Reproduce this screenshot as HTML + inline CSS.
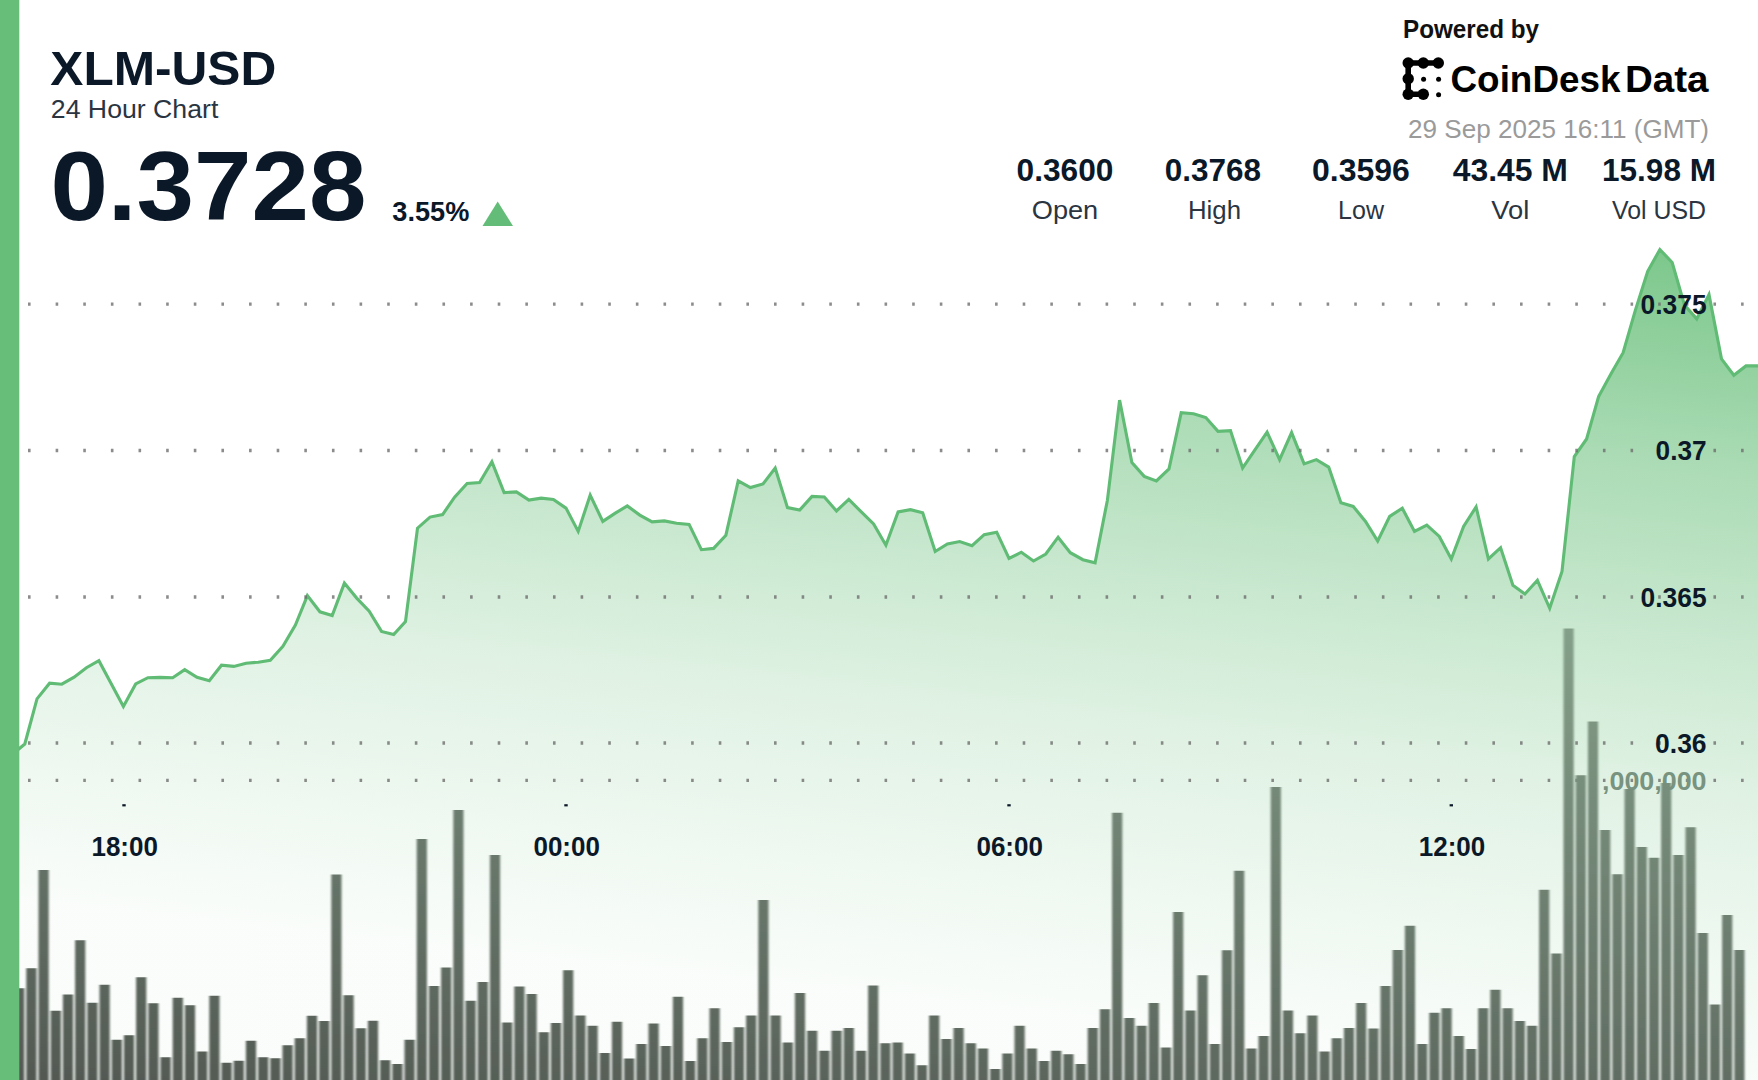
<!DOCTYPE html>
<html lang="en"><head><meta charset="utf-8"><title>XLM-USD 24 Hour Chart</title>
<style>
html,body{margin:0;padding:0;background:#fff;}
body{width:1758px;height:1080px;overflow:hidden;font-family:"Liberation Sans",Arial,sans-serif;}
svg{display:block;position:absolute;left:0;top:0;}
</style></head><body>
<svg width="1758" height="1080" viewBox="0 0 1758 1080" font-family="Liberation Sans, Arial, sans-serif">
<defs>
<linearGradient id="ga" gradientUnits="userSpaceOnUse" x1="1752" y1="248" x2="1660.5" y2="1080">
<stop offset="0" stop-color="#66be78" stop-opacity="0.87"/>
<stop offset="0.1686" stop-color="#66be78" stop-opacity="0.67"/>
<stop offset="0.2637" stop-color="#66be78" stop-opacity="0.55"/>
<stop offset="0.4656" stop-color="#66be78" stop-opacity="0.36"/>
<stop offset="0.6556" stop-color="#66be78" stop-opacity="0.2"/>
<stop offset="0.8456" stop-color="#66be78" stop-opacity="0.105"/>
<stop offset="1" stop-color="#66be78" stop-opacity="0.035"/>
</linearGradient>
<linearGradient id="gb" gradientUnits="userSpaceOnUse" x1="1752" y1="248" x2="1637.6" y2="1288">
<stop offset="0" stop-color="rgb(164,205,172)"/>
<stop offset="1" stop-color="rgb(80,85,80)"/>
</linearGradient>
<filter id="bl" x="0" y="0" width="100%" height="100%" filterUnits="userSpaceOnUse"><feGaussianBlur stdDeviation="1.0 0.7"/></filter>
</defs>
<rect width="1758" height="1080" fill="#fff"/>
<path d="M12.5 754 L18.8 749 L24.8 744 L37 698.9 L49.6 683.2 L61.8 684.2 L74.1 677.2 L86.4 667.7 L98.9 660.7 L111.1 683.4 L123.4 706.5 L135.7 683.9 L147.9 677.7 L160.2 677.4 L172.7 677.7 L184.7 669.7 L197 677.2 L209.3 680.7 L221.5 665.2 L233.8 666.4 L246.1 663.2 L258.3 662.2 L270.3 660.2 L282.9 646.4 L295.4 625.1 L307.4 595.6 L319.9 611.8 L332.2 615.6 L344.4 583.1 L356.7 598.1 L369.2 611.3 L381.5 631.4 L393.7 634.6 L405.5 621.5 L417.5 528.2 L430 517.1 L442.6 514.6 L454.6 497.1 L467.1 483.4 L479.6 482.6 L491.9 461.8 L504.1 492.6 L516.4 491.9 L528.9 500.1 L541.2 498.1 L553.4 499.4 L566 508.1 L578.2 531.4 L590.2 495.1 L602.8 521.4 L615.3 513.1 L627.3 505.9 L639.8 515.1 L652.1 521.9 L664.3 520.9 L676.6 523.2 L689.1 524.4 L701.4 549.7 L713.6 548.4 L725.9 535.2 L738.2 480.9 L750.4 487.6 L763 483.9 L775.2 468.1 L787.5 507.6 L799.7 510.1 L812 496.4 L824.3 496.9 L836.5 510.9 L848.8 499.4 L861.3 511.9 L873.6 524 L885.9 545.2 L898.1 511.9 L910.4 509.7 L922.7 512.7 L935.2 551.5 L947.4 544 L959.7 541.5 L972 545.7 L984.2 534.7 L996.7 532.2 L1009 558.5 L1021.3 552.2 L1033.5 561 L1045.8 554 L1058.1 537.2 L1070.3 552.7 L1082.9 559.7 L1095.1 562.8 L1107.4 500.2 L1119.6 400.1 L1131.9 462.6 L1144.2 476.4 L1156.4 480.9 L1169 468.9 L1181.2 412.6 L1193.5 413.8 L1205.8 417.5 L1218 431.3 L1230.5 430.6 L1242.6 468.1 L1255.1 449.6 L1267.1 432.1 L1279.6 459.6 L1291.6 432.6 L1304.1 463.9 L1316.4 459.6 L1328.7 467.1 L1340.9 502.7 L1353.2 506.4 L1365.5 521.4 L1377.7 541 L1389.7 516.4 L1402.3 508.2 L1414.5 531.4 L1426.8 525.2 L1439.3 536.4 L1451.3 559 L1463.6 526.4 L1476.1 506.9 L1488.4 559 L1500.6 547.7 L1512.9 585.3 L1524.9 594 L1537.4 580.3 L1549.7 608.3 L1562 571.5 L1574.3 456.5 L1586.6 439 L1598.6 396.5 L1610.9 373.9 L1623.1 352.7 L1635.4 310.1 L1647.7 271.3 L1659.9 249.5 L1672.2 262.5 L1684.5 305.1 L1696.7 318.9 L1709 294.6 L1721.5 358.9 L1733.8 375.2 L1746 365.9 L1758.6 365.9 L1771.1 365.9 L1771.1 1080 L12.5 1080 Z" fill="url(#ga)"/>
<path d="M12.5 754 L18.8 749 L24.8 744 L37 698.9 L49.6 683.2 L61.8 684.2 L74.1 677.2 L86.4 667.7 L98.9 660.7 L111.1 683.4 L123.4 706.5 L135.7 683.9 L147.9 677.7 L160.2 677.4 L172.7 677.7 L184.7 669.7 L197 677.2 L209.3 680.7 L221.5 665.2 L233.8 666.4 L246.1 663.2 L258.3 662.2 L270.3 660.2 L282.9 646.4 L295.4 625.1 L307.4 595.6 L319.9 611.8 L332.2 615.6 L344.4 583.1 L356.7 598.1 L369.2 611.3 L381.5 631.4 L393.7 634.6 L405.5 621.5 L417.5 528.2 L430 517.1 L442.6 514.6 L454.6 497.1 L467.1 483.4 L479.6 482.6 L491.9 461.8 L504.1 492.6 L516.4 491.9 L528.9 500.1 L541.2 498.1 L553.4 499.4 L566 508.1 L578.2 531.4 L590.2 495.1 L602.8 521.4 L615.3 513.1 L627.3 505.9 L639.8 515.1 L652.1 521.9 L664.3 520.9 L676.6 523.2 L689.1 524.4 L701.4 549.7 L713.6 548.4 L725.9 535.2 L738.2 480.9 L750.4 487.6 L763 483.9 L775.2 468.1 L787.5 507.6 L799.7 510.1 L812 496.4 L824.3 496.9 L836.5 510.9 L848.8 499.4 L861.3 511.9 L873.6 524 L885.9 545.2 L898.1 511.9 L910.4 509.7 L922.7 512.7 L935.2 551.5 L947.4 544 L959.7 541.5 L972 545.7 L984.2 534.7 L996.7 532.2 L1009 558.5 L1021.3 552.2 L1033.5 561 L1045.8 554 L1058.1 537.2 L1070.3 552.7 L1082.9 559.7 L1095.1 562.8 L1107.4 500.2 L1119.6 400.1 L1131.9 462.6 L1144.2 476.4 L1156.4 480.9 L1169 468.9 L1181.2 412.6 L1193.5 413.8 L1205.8 417.5 L1218 431.3 L1230.5 430.6 L1242.6 468.1 L1255.1 449.6 L1267.1 432.1 L1279.6 459.6 L1291.6 432.6 L1304.1 463.9 L1316.4 459.6 L1328.7 467.1 L1340.9 502.7 L1353.2 506.4 L1365.5 521.4 L1377.7 541 L1389.7 516.4 L1402.3 508.2 L1414.5 531.4 L1426.8 525.2 L1439.3 536.4 L1451.3 559 L1463.6 526.4 L1476.1 506.9 L1488.4 559 L1500.6 547.7 L1512.9 585.3 L1524.9 594 L1537.4 580.3 L1549.7 608.3 L1562 571.5 L1574.3 456.5 L1586.6 439 L1598.6 396.5 L1610.9 373.9 L1623.1 352.7 L1635.4 310.1 L1647.7 271.3 L1659.9 249.5 L1672.2 262.5 L1684.5 305.1 L1696.7 318.9 L1709 294.6 L1721.5 358.9 L1733.8 375.2 L1746 365.9 L1758.6 365.9 L1771.1 365.9" fill="none" stroke="#60bb75" stroke-width="3.1" stroke-linejoin="miter" stroke-miterlimit="6"/>
<g stroke="#6c6c6c" stroke-opacity="0.78" stroke-width="3.3" stroke-dasharray="2.6 25.03" fill="none"><line x1="28.0" y1="304.2" x2="1758" y2="304.2"/><line x1="28.0" y1="450.5" x2="1758" y2="450.5"/><line x1="28.0" y1="597" x2="1758" y2="597"/><line x1="28.0" y1="743" x2="1758" y2="743"/><line x1="28.0" y1="780.3" x2="1758" y2="780.3"/></g>
<text x="1706.5" y="789.8" font-size="25.5" font-weight="bold" text-anchor="end" fill="#78937f" textLength="104.5" lengthAdjust="spacingAndGlyphs">,000,000</text>
<path d="M14.1 1080V988.2h10.2V1080zM26.3 1080V968.2h10.2V1080zM38.5 1080V870.1h10.2V1080zM50.7 1080V1010.8h10.2V1080zM62.9 1080V994.5h10.2V1080zM75.1 1080V940.2h10.2V1080zM87.3 1080V1002.7h10.2V1080zM99.5 1080V984.7h10.2V1080zM111.7 1080V1039.8h10.2V1080zM123.9 1080V1035.3h10.2V1080zM136.1 1080V977.2h10.2V1080zM148.3 1080V1003.2h10.2V1080zM160.5 1080V1057.3h10.2V1080zM172.7 1080V997.7h10.2V1080zM184.9 1080V1005.2h10.2V1080zM197.1 1080V1051.6h10.2V1080zM209.3 1080V995.7h10.2V1080zM221.5 1080V1062.8h10.2V1080zM233.7 1080V1060.8h10.2V1080zM245.9 1080V1040.8h10.2V1080zM258.1 1080V1057.3h10.2V1080zM270.3 1080V1058.3h10.2V1080zM282.5 1080V1045.3h10.2V1080zM294.7 1080V1038.3h10.2V1080zM306.9 1080V1015.8h10.2V1080zM319.1 1080V1021h10.2V1080zM331.3 1080V874.6h10.2V1080zM343.5 1080V995.2h10.2V1080zM355.7 1080V1028.3h10.2V1080zM367.9 1080V1020.8h10.2V1080zM380.1 1080V1060.3h10.2V1080zM392.3 1080V1064.1h10.2V1080zM404.5 1080V1039.7h10.2V1080zM416.7 1080V838.9h10.2V1080zM428.9 1080V986.1h10.2V1080zM441.1 1080V967.5h10.2V1080zM453.3 1080V810h10.2V1080zM465.5 1080V1000.8h10.2V1080zM477.7 1080V981.9h10.2V1080zM489.9 1080V855h10.2V1080zM502.1 1080V1022.5h10.2V1080zM514.3 1080V986.4h10.2V1080zM526.5 1080V993.9h10.2V1080zM538.7 1080V1032.2h10.2V1080zM550.9 1080V1023.1h10.2V1080zM563.1 1080V970.3h10.2V1080zM575.3 1080V1015.6h10.2V1080zM587.5 1080V1025.8h10.2V1080zM599.7 1080V1053.1h10.2V1080zM611.9 1080V1021.7h10.2V1080zM624.1 1080V1058.6h10.2V1080zM636.3 1080V1043.9h10.2V1080zM648.5 1080V1023.6h10.2V1080zM660.7 1080V1046.1h10.2V1080zM672.9 1080V996.7h10.2V1080zM685.1 1080V1061.1h10.2V1080zM697.3 1080V1038.3h10.2V1080zM709.5 1080V1008.3h10.2V1080zM721.7 1080V1041.9h10.2V1080zM733.9 1080V1027.2h10.2V1080zM746.1 1080V1015.6h10.2V1080zM758.3 1080V900h10.2V1080zM770.5 1080V1015.6h10.2V1080zM782.7 1080V1042.5h10.2V1080zM794.9 1080V993.1h10.2V1080zM807.1 1080V1030.8h10.2V1080zM819.3 1080V1050.8h10.2V1080zM831.5 1080V1030.8h10.2V1080zM843.7 1080V1028.1h10.2V1080zM855.9 1080V1050.8h10.2V1080zM868.1 1080V985.6h10.2V1080zM880.3 1080V1043.3h10.2V1080zM892.5 1080V1042.5h10.2V1080zM904.7 1080V1053.6h10.2V1080zM916.9 1080V1065.3h10.2V1080zM929.1 1080V1015.6h10.2V1080zM941.3 1080V1038.9h10.2V1080zM953.5 1080V1028.1h10.2V1080zM965.7 1080V1043.3h10.2V1080zM977.9 1080V1048.6h10.2V1080zM990.1 1080V1068.9h10.2V1080zM1002.3 1080V1053.6h10.2V1080zM1014.5 1080V1025.8h10.2V1080zM1026.7 1080V1048.6h10.2V1080zM1038.9 1080V1061.1h10.2V1080zM1051.1 1080V1050.8h10.2V1080zM1063.3 1080V1054.2h10.2V1080zM1075.5 1080V1063.9h10.2V1080zM1087.7 1080V1028.1h10.2V1080zM1099.9 1080V1009.2h10.2V1080zM1112.1 1080V812.8h10.2V1080zM1124.3 1080V1018.1h10.2V1080zM1136.5 1080V1025.8h10.2V1080zM1148.7 1080V1003.1h10.2V1080zM1160.9 1080V1047.5h10.2V1080zM1173.1 1080V911.9h10.2V1080zM1185.3 1080V1010.6h10.2V1080zM1197.5 1080V975.3h10.2V1080zM1209.7 1080V1043.9h10.2V1080zM1221.9 1080V950.3h10.2V1080zM1234.1 1080V870.8h10.2V1080zM1246.3 1080V1048.6h10.2V1080zM1258.5 1080V1036.1h10.2V1080zM1270.7 1080V786.9h10.2V1080zM1282.9 1080V1010.6h10.2V1080zM1295.1 1080V1033.3h10.2V1080zM1307.3 1080V1015.6h10.2V1080zM1319.5 1080V1051.4h10.2V1080zM1331.7 1080V1038.3h10.2V1080zM1343.9 1080V1028.1h10.2V1080zM1356.1 1080V1003.1h10.2V1080zM1368.3 1080V1028.6h10.2V1080zM1380.5 1080V986.1h10.2V1080zM1392.7 1080V950h10.2V1080zM1404.9 1080V925.8h10.2V1080zM1417.1 1080V1043.9h10.2V1080zM1429.3 1080V1012.8h10.2V1080zM1441.5 1080V1008.3h10.2V1080zM1453.7 1080V1036.1h10.2V1080zM1465.9 1080V1048.9h10.2V1080zM1478.1 1080V1008.3h10.2V1080zM1490.3 1080V989.7h10.2V1080zM1502.5 1080V1008.3h10.2V1080zM1514.7 1080V1021.1h10.2V1080zM1526.9 1080V1025.8h10.2V1080zM1539.1 1080V889.7h10.2V1080zM1551.3 1080V953.6h10.2V1080zM1563.5 1080V628.6h10.2V1080zM1575.7 1080V775.3h10.2V1080zM1587.9 1080V721.5h10.2V1080zM1600.1 1080V830h10.2V1080zM1612.3 1080V874.3h10.2V1080zM1624.5 1080V789h10.2V1080zM1636.7 1080V847h10.2V1080zM1648.9 1080V857.8h10.2V1080zM1661.1 1080V783h10.2V1080zM1673.3 1080V855h10.2V1080zM1685.5 1080V827.2h10.2V1080zM1697.7 1080V933h10.2V1080zM1709.9 1080V1004.4h10.2V1080zM1722.1 1080V915h10.2V1080zM1734.3 1080V950.1h10.2V1080z" fill="url(#gb)" filter="url(#bl)"/>
<text x="1706.6" y="313.8" font-size="27" font-weight="bold" text-anchor="end" fill="#0b1828" textLength="66.0" lengthAdjust="spacingAndGlyphs">0.375</text><text x="1706.6" y="460.1" font-size="27" font-weight="bold" text-anchor="end" fill="#0b1828" textLength="51.0" lengthAdjust="spacingAndGlyphs">0.37</text><text x="1706.6" y="606.6" font-size="27" font-weight="bold" text-anchor="end" fill="#0b1828" textLength="66.0" lengthAdjust="spacingAndGlyphs">0.365</text><text x="1706.6" y="753.3000000000001" font-size="27" font-weight="bold" text-anchor="end" fill="#0b1828" textLength="51.5" lengthAdjust="spacingAndGlyphs">0.36</text><text x="124.7" y="856.4" font-size="27" font-weight="bold" text-anchor="middle" fill="#0b1828" textLength="66.5" lengthAdjust="spacingAndGlyphs">18:00</text><rect x="122.3" y="804.2" width="3.4" height="2.2" fill="#0b1828"/><text x="566.7" y="856.4" font-size="27" font-weight="bold" text-anchor="middle" fill="#0b1828" textLength="66.5" lengthAdjust="spacingAndGlyphs">00:00</text><rect x="564.3000000000001" y="804.2" width="3.4" height="2.2" fill="#0b1828"/><text x="1009.7" y="856.4" font-size="27" font-weight="bold" text-anchor="middle" fill="#0b1828" textLength="66.5" lengthAdjust="spacingAndGlyphs">06:00</text><rect x="1007.3000000000001" y="804.2" width="3.4" height="2.2" fill="#0b1828"/><text x="1452" y="856.4" font-size="27" font-weight="bold" text-anchor="middle" fill="#0b1828" textLength="66.5" lengthAdjust="spacingAndGlyphs">12:00</text><rect x="1449.6" y="804.2" width="3.4" height="2.2" fill="#0b1828"/>
<rect x="0" y="0" width="19.3" height="1080" fill="#66be78"/>
<text x="50.3" y="85.3" font-size="47.5" font-weight="bold" text-anchor="start" fill="#0b1828" textLength="226" lengthAdjust="spacingAndGlyphs">XLM-USD</text><text x="50.8" y="118.2" font-size="25.8" font-weight="normal" text-anchor="start" fill="#2b3542" textLength="167.5" lengthAdjust="spacingAndGlyphs">24 Hour Chart</text><text x="50.4" y="220.3" font-size="98" font-weight="bold" text-anchor="start" fill="#0b1828" textLength="316" lengthAdjust="spacingAndGlyphs">0.3728</text><text x="392.3" y="221.3" font-size="28" font-weight="bold" text-anchor="start" fill="#0b1828" textLength="77" lengthAdjust="spacingAndGlyphs">3.55%</text><path d="M482.5 226 L497.7 201.5 L513 226 Z" fill="#63bd78"/><text x="1403" y="37.6" font-size="25" font-weight="bold" text-anchor="start" fill="#111" textLength="136" lengthAdjust="spacingAndGlyphs">Powered by</text><text font-size="37.5" font-weight="bold" fill="#000" y="91.6"><tspan x="1450.5" textLength="170" lengthAdjust="spacingAndGlyphs">CoinDesk</tspan> <tspan x="1625" textLength="83.5" lengthAdjust="spacingAndGlyphs">Data</tspan></text><text x="1408" y="137.6" font-size="26" font-weight="normal" text-anchor="start" fill="#9a9a9a" textLength="301" lengthAdjust="spacingAndGlyphs">29 Sep 2025 16:11 (GMT)</text><g fill="#000" stroke="#000" stroke-width="5.6" stroke-linecap="round"><path d="M1438.3 63H1408.2V94.3H1423.3" fill="none"/></g><g fill="#000"><circle cx="1408.2" cy="63" r="5.7"/><circle cx="1423.3" cy="63" r="5.7"/><circle cx="1438.3" cy="63" r="5.7"/><circle cx="1408.2" cy="78.8" r="5.7"/><circle cx="1408.2" cy="94.3" r="5.7"/><circle cx="1423.3" cy="94.3" r="5.7"/><circle cx="1423.6" cy="79.2" r="2.5"/><circle cx="1438.6" cy="79.2" r="2.5"/><circle cx="1438.6" cy="94.7" r="2.5"/></g><text x="1065" y="181" font-size="31.5" font-weight="bold" text-anchor="middle" fill="#0b1828" textLength="96.8" lengthAdjust="spacingAndGlyphs">0.3600</text><text x="1065" y="218.6" font-size="25.6" font-weight="normal" text-anchor="middle" fill="#2b3542" textLength="66.5" lengthAdjust="spacingAndGlyphs">Open</text><text x="1213" y="181" font-size="31.5" font-weight="bold" text-anchor="middle" fill="#0b1828" textLength="96.3" lengthAdjust="spacingAndGlyphs">0.3768</text><text x="1214.5" y="218.6" font-size="25.6" font-weight="normal" text-anchor="middle" fill="#2b3542" textLength="53" lengthAdjust="spacingAndGlyphs">High</text><text x="1361" y="181" font-size="31.5" font-weight="bold" text-anchor="middle" fill="#0b1828" textLength="97.8" lengthAdjust="spacingAndGlyphs">0.3596</text><text x="1361" y="218.6" font-size="25.6" font-weight="normal" text-anchor="middle" fill="#2b3542" textLength="46" lengthAdjust="spacingAndGlyphs">Low</text><text x="1510.3" y="181" font-size="31.5" font-weight="bold" text-anchor="middle" fill="#0b1828" textLength="115.3" lengthAdjust="spacingAndGlyphs">43.45 M</text><text x="1510.3" y="218.6" font-size="25.6" font-weight="normal" text-anchor="middle" fill="#2b3542" textLength="38" lengthAdjust="spacingAndGlyphs">Vol</text><text x="1659" y="181" font-size="31.5" font-weight="bold" text-anchor="middle" fill="#0b1828" textLength="113.8" lengthAdjust="spacingAndGlyphs">15.98 M</text><text x="1659" y="218.6" font-size="25.6" font-weight="normal" text-anchor="middle" fill="#2b3542" textLength="94" lengthAdjust="spacingAndGlyphs">Vol USD</text>
</svg>
</body></html>
